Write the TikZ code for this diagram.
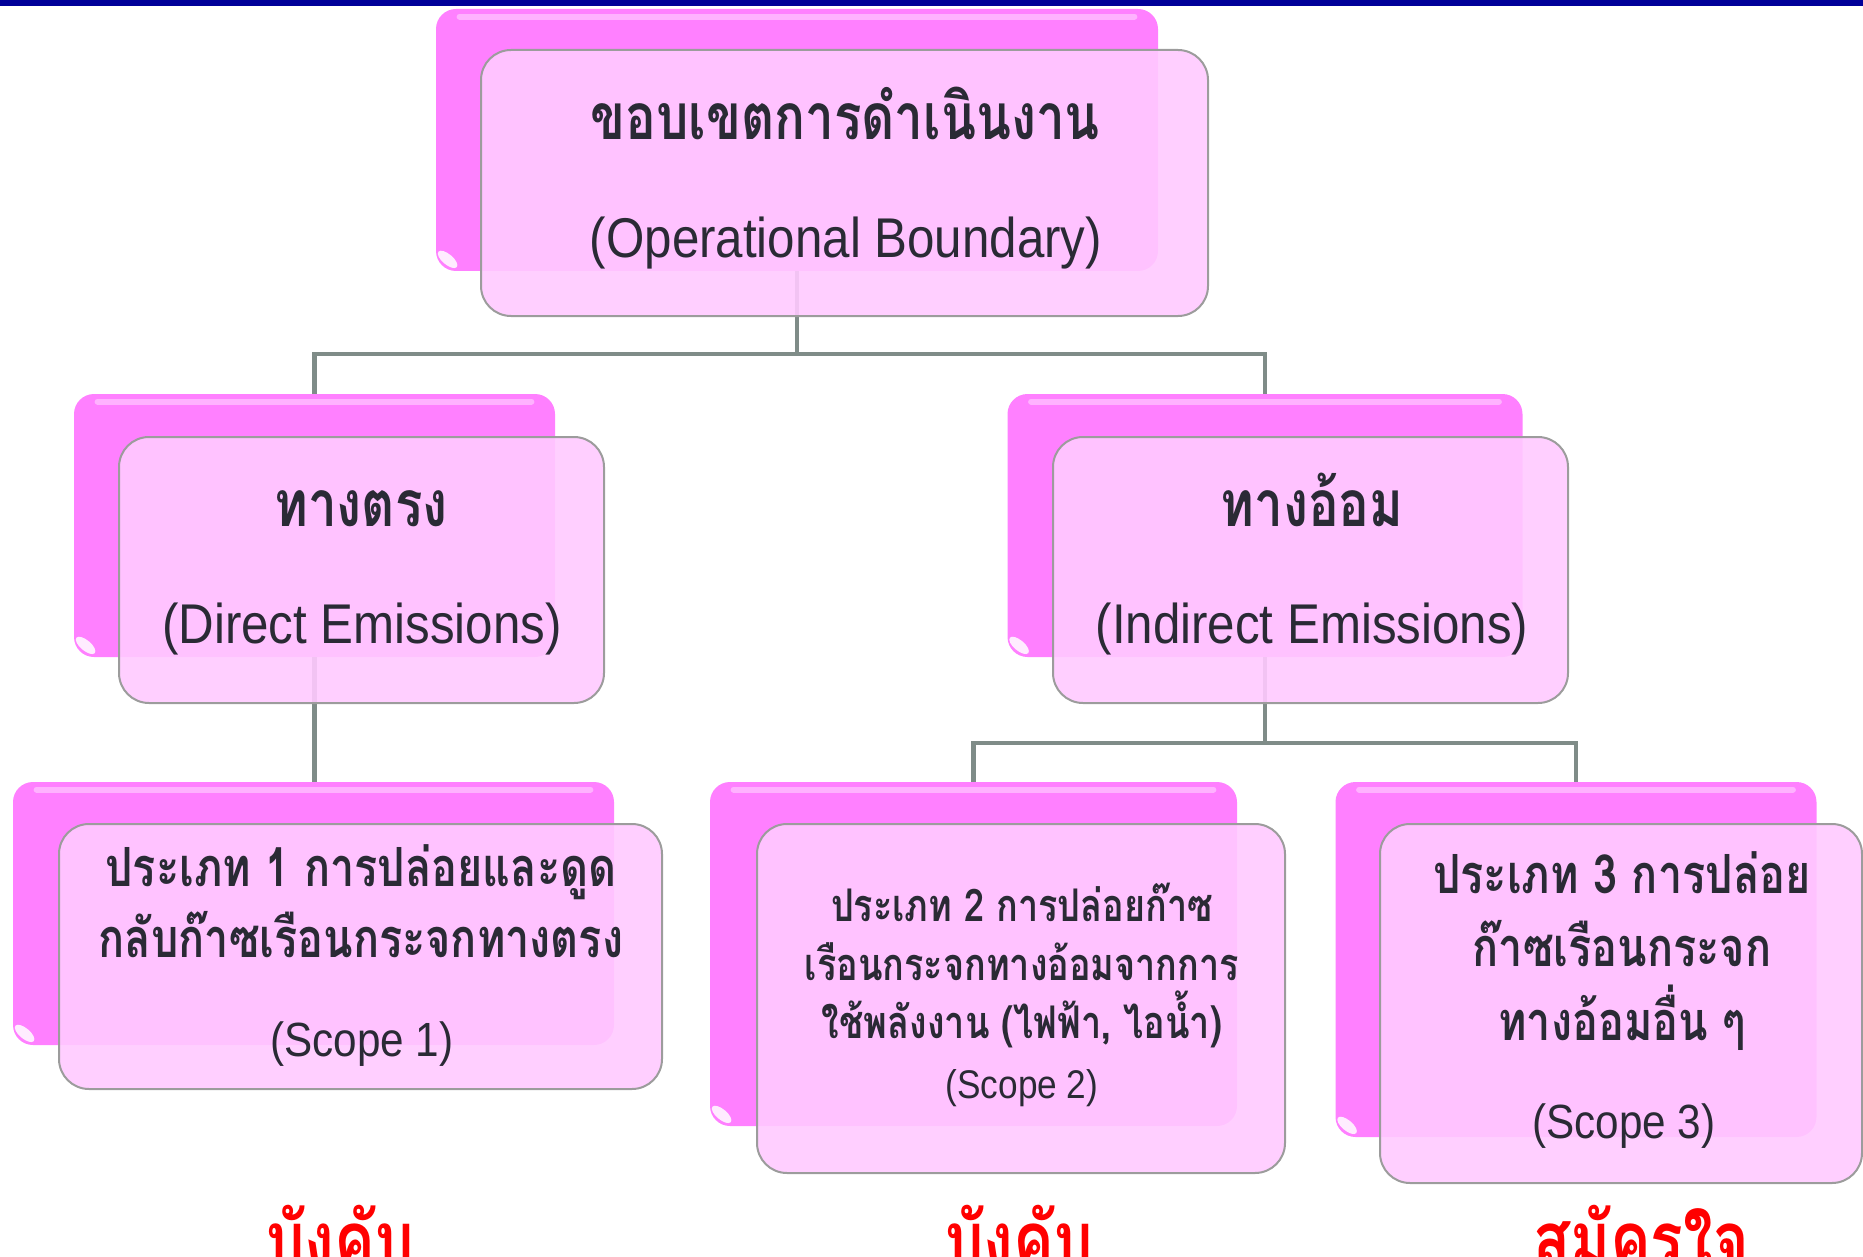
\documentclass[tikz,border=0pt]{standalone}
\usepackage{fontspec}
\newfontfamily\thaifont[Script=Thai,FakeStretch=0.8]{Loma}
\newfontfamily\latfont[FakeStretch=0.88]{Liberation Sans}
\definecolor{barblue}{HTML}{000099}
\definecolor{backpink}{HTML}{FF80FF}
\definecolor{frontpink}{HTML}{FFCAFF}
\definecolor{edgegray}{HTML}{9C9C9C}
\definecolor{conngray}{HTML}{7F8C88}
\definecolor{txt}{HTML}{2A2A35}
\definecolor{redlbl}{HTML}{FF0000}
\tikzset{
  backbox/.style={draw=none, fill=backpink, rounded corners=10pt, inner sep=0pt},
  frontbox/.style={draw=edgegray, line width=1pt, fill=frontpink, fill opacity=0.9, rounded corners=15pt, inner sep=0pt},
  conn/.style={draw=conngray, line width=2.3pt},
  gloss/.style={draw=white, draw opacity=0.4, line width=3pt, line cap=round},
  oval/.style={fill=white, fill opacity=0.85},
  thaih/.style={anchor=base, inner sep=0pt, text=txt, font=\thaifont\bfseries\fontsize{32}{38}\selectfont},
  thaim/.style={anchor=base, inner sep=0pt, text=txt, font=\thaifont\bfseries\fontsize{27}{32}\selectfont},
  thais/.style={anchor=base, inner sep=0pt, text=txt, font=\thaifont\bfseries\fontsize{22.5}{28}\selectfont},
  latl/.style={anchor=base, inner sep=0pt, text=txt, font=\latfont\fontsize{28}{34}\selectfont},
  latm/.style={anchor=base, inner sep=0pt, text=txt, font=\latfont\fontsize{24}{30}\selectfont},
  lats/.style={anchor=base, inner sep=0pt, text=txt, font=\latfont\fontsize{20}{26}\selectfont},
  redtxt/.style={anchor=base, inner sep=0pt, text=redlbl, font=\thaifont\bfseries\fontsize{38}{44}\selectfont},
}
\begin{document}
\begin{tikzpicture}[x=0.5pt,y=-0.5pt]
\useasboundingbox (0,0) rectangle (1863,1257);
\begin{scope}
\clip (0,0) rectangle (1863,1257);
% top bar
\fill[barblue] (0,0) rectangle (1863,6);

% back boxes
\node[backbox, minimum width=361pt, minimum height=131pt] (b1) at (797,140) {};
\node[backbox, minimum width=240.5pt, minimum height=131.5pt] (b2) at (314.5,525.5) {};
\node[backbox, minimum width=257.5pt, minimum height=131.5pt] (b3) at (1265,525.5) {};
\node[backbox, minimum width=300.5pt, minimum height=131.5pt] (b4) at (313.5,913.5) {};
\node[backbox, minimum width=263.5pt, minimum height=172pt] (b5) at (973.5,954) {};
\node[backbox, minimum width=240.5pt, minimum height=177.5pt] (b6) at (1576,959.5) {};

% gloss highlights on back boxes
\foreach \b in {b1,b2,b3,b4,b5,b6}{
  \draw[gloss] ([xshift=12pt,yshift=-4pt]\b.north west) -- ([xshift=-12pt,yshift=-4pt]\b.north east);
  \coordinate (o\b) at ([xshift=6pt,yshift=6pt]\b.south west);
  \fill[oval, rotate around={-40:(o\b)}] (o\b) ellipse (6pt and 2.6pt);
}

% connectors
\coordinate (j1) at (797,354);
\coordinate (j2) at (1265,743);
\draw[conn] (b1.south) -- (j1);
\draw[conn] (b2.north) |- (j1) -| (b3.north);
\draw[conn] (b2.south) -- (b2.south |- b4.north);
\draw[conn] (b3.south) -- (j2);
\draw[conn] (b5.north) |- (j2) -| (b6.north);

% front boxes
\node[frontbox, minimum width=363.5pt, minimum height=133pt] (f1) at (844.5,183) {};
\node[frontbox, minimum width=242.5pt, minimum height=133pt] (f2) at (361.5,570) {};
\node[frontbox, minimum width=257.5pt, minimum height=133pt] (f3) at (1310.5,570) {};
\node[frontbox, minimum width=301.5pt, minimum height=132.5pt] (f4) at (360.5,956.5) {};
\node[frontbox, minimum width=264pt, minimum height=174.5pt] (f5) at (1021,998.5) {};
\node[frontbox, minimum width=241pt, minimum height=179.5pt] (f6) at (1621,1003.5) {};

% texts
\node[thaih] (t1a) at (845,140) {ขอบเขตการดำเนินงาน};
\node[latl]  (t1b) at (846,257) {(Operational Boundary)};
\node[thaih] (t2a) at (361,526) {ทางตรง};
\node[latl]  (t2b) at (362,643) {(Direct Emissions)};
\node[thaih] (t3a) at (1312,526) {ทางอ้อม};
\node[latl]  (t3b) at (1312,643) {(Indirect Emissions)};

\node[thaim] (t4a) at (361,886) {ประเภท 1 การปล่อยและดูด};
\node[thaim] (t4b) at (361,957) {กลับก๊าซเรือนกระจกทางตรง};
\node[latm]  (t4c) at (362,1056) {(Scope 1)};

\node[thais] (t5a) at (1022,921) {ประเภท 2 การปล่อยก๊าซ};
\node[thais] (t5b) at (1022,980) {เรือนกระจกทางอ้อมจากการ};
\node[thais] (t5c) at (1022,1038) {ใช้พลังงาน (ไฟฟ้า, ไอน้ำ)};
\node[lats]  (t5d) at (1022,1098) {(Scope 2)};

\node[thaim] (t6a) at (1622,893) {ประเภท 3 การปล่อย};
\node[thaim] (t6b) at (1622,966) {ก๊าซเรือนกระจก};
\node[thaim] (t6c) at (1622,1040) {ทางอ้อมอื่น ๆ};
\node[latm]  (t6d) at (1624,1138) {(Scope 3)};

\node[redtxt] (r1) at (340,1266) {บังคับ};
\node[redtxt] (r2) at (1019,1266) {บังคับ};
\node[redtxt] (r3) at (1641,1266) {สมัครใจ};
\end{scope}
\end{tikzpicture}
\end{document}
